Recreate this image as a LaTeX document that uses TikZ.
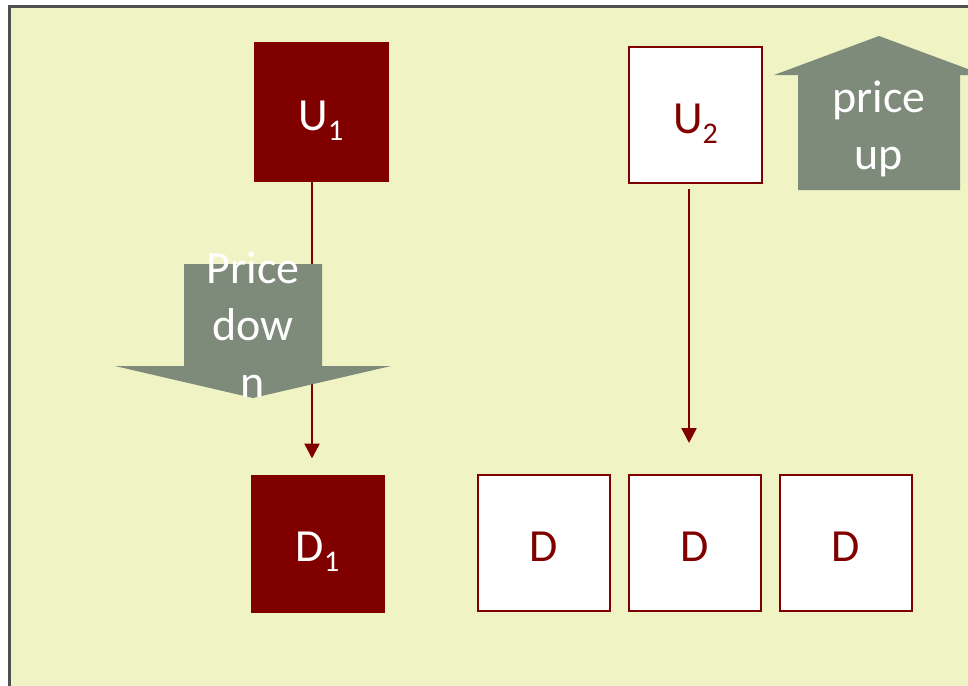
\documentclass[tikz,border=0pt]{standalone}
\usepackage{fontspec}
\setmainfont{Carlito}
\usetikzlibrary{arrows.meta}
\definecolor{bg}{HTML}{F0F4C4}
\definecolor{dred}{HTML}{800000}
\definecolor{garrow}{HTML}{7F8B7A}
\definecolor{framegray}{HTML}{505050}
\newcommand{\subone}[1]{\raisebox{-10pt}{\fontsize{30}{30}\selectfont #1}}
\begin{document}
\begin{tikzpicture}[x=1pt,y=-1pt,
  boxbase/.style={rectangle, inner sep=0pt, text height=36pt, text depth=0pt,
    font=\fontsize{46}{57}\selectfont},
  filledbox/.style={boxbase, fill=dred, draw=dred, line width=1pt, text=white},
  openbox/.style={boxbase, fill=white, draw=dred, line width=2pt, text=dred},
  link/.style={draw=dred, line width=2.5pt, -{Triangle[length=15pt,width=15pt]}},
  bigarrow/.style={fill=garrow, draw=none},
  arrowtext/.style={text=white, align=center, inner sep=0pt,
    font=\fontsize{46}{57}\selectfont}
]
\useasboundingbox (0,0) rectangle (968,685);
\clip (0,0) rectangle (968,685);
% frame
\draw[framegray, line width=3pt, fill=bg] (9.5,6.5) rectangle (1000,720);

% boxes
\node[filledbox, minimum width=134pt, minimum height=138pt] (U1) at (321,112) {U\subone{1}};
\node[openbox, minimum width=133pt, minimum height=136pt] (U2) at (695.5,115) {U\subone{2}};
\node[filledbox, minimum width=133pt, minimum height=137pt] (D1) at (317.5,543.5) {D\subone{1}};
\node[openbox, minimum width=132pt, minimum height=136pt] (Da) at (544,543) {D};
\node[openbox, minimum width=132pt, minimum height=136pt] (Db) at (695,543) {D};
\node[openbox, minimum width=132pt, minimum height=136pt] (Dc) at (846,543) {D};

% connectors
\draw[link, shorten >=16pt] ([xshift=-9pt]U1.south) -- ([xshift=-9pt]U1.south |- D1.north);
\draw[link, shorten <=5pt, shorten >=31pt] ([xshift=-6.5pt]U2.south) -- ([xshift=-6.5pt]U2.south |- Db.north);

% price down arrow
\fill[bigarrow] (184,264) -- (322,264) -- (322,366) -- (391,366) -- (253,398)
  -- (115,366) -- (184,366) -- cycle;
\node[arrowtext, anchor=base] (pdown) at (253,397) {Price\\dow\\n};

% price up arrow
\fill[bigarrow] (798,190) -- (798,75) -- (774,75) -- (879,36) -- (984,75)
  -- (960,75) -- (960,190) -- cycle;
\node[arrowtext, anchor=base] (pup) at (879,169) {price\\up};
\end{tikzpicture}
\end{document}
